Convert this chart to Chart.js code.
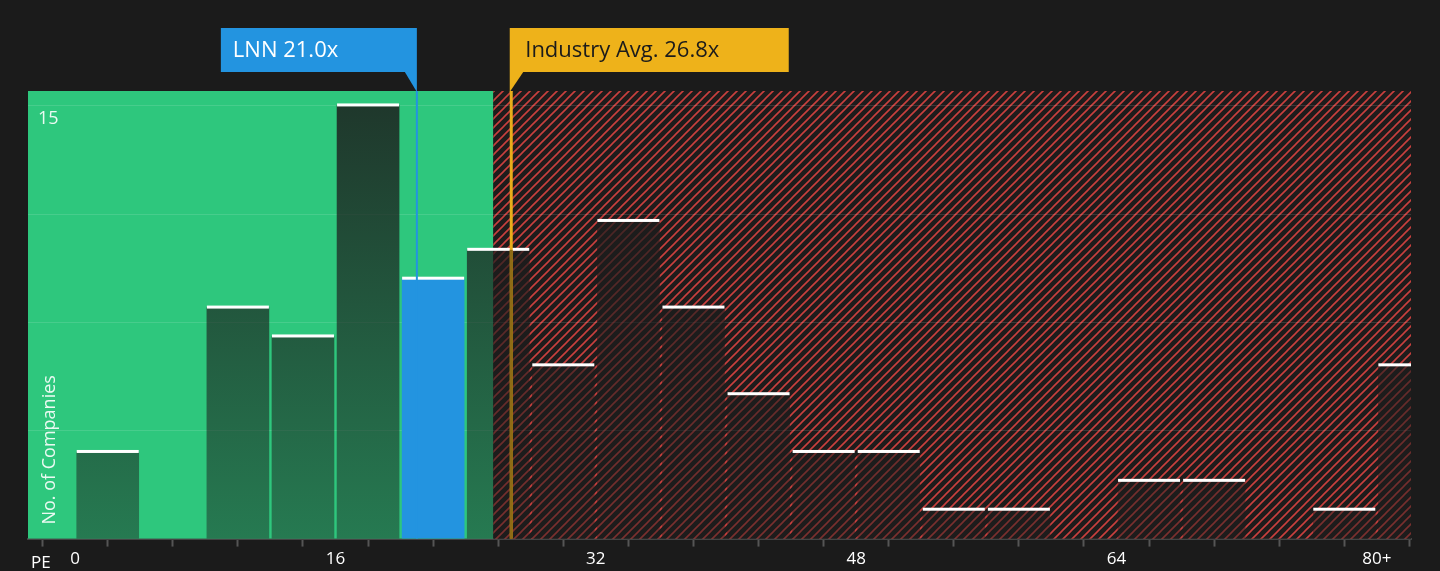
<!DOCTYPE html>
<html><head><meta charset="utf-8">
<script src="https://cdn.jsdelivr.net/npm/chart.js@4"></script>
<style>html,body{margin:0;background:#1b1b1b;}#w{width:1440px;height:571px;}</style>
</head><body><div id="w"><canvas id="c"></canvas></div>
<script>
const binCenters = [2,10,14,18,22,26,30,34,38,42,46,50,54,58,66,70,78,82];
const counts     = [3,8,7,15,9,10,6,11,8,5,3,3,1,1,2,2,1,6];
const xTickLabels = {0:'0',16:'16',32:'32',48:'48',64:'64',80:'80+'};
const companyPE = 21.0, industryPE = 26.8;
const companyLabel = 'LNN 21.0x', industryLabel = 'Industry Avg. 26.8x';
const font = '"Open Sans", "DejaVu Sans", sans-serif';

function hatch(){
  const p=document.createElement('canvas');p.width=9;p.height=9;const g=p.getContext('2d');
  g.fillStyle='#1e1c1c';g.fillRect(0,0,9,9);
  g.strokeStyle='#c9403e';g.lineWidth=1.6;
  g.beginPath();g.moveTo(0,9);g.lineTo(9,0);g.moveTo(-4.5,4.5);g.lineTo(4.5,-4.5);g.moveTo(4.5,13.5);g.lineTo(13.5,4.5);g.stroke();
  return p;
}
const bgPlugin={id:'bg',beforeDatasetsDraw(ch){
  const {ctx,chartArea:a,scales:{x,y}}=ch;const xs=x.getPixelForValue(25.7);
  ctx.save();
  ctx.fillStyle='#2ec77d';ctx.fillRect(a.left,a.top,xs-a.left,a.bottom-a.top);
  ctx.fillStyle=ctx.createPattern(hatch(),'repeat');ctx.fillRect(xs,a.top,a.right-xs,a.bottom-a.top);
  ctx.strokeStyle='rgba(255,255,255,0.12)';ctx.lineWidth=1;
  [3.75,7.5,11.25,15].forEach(v=>{const py=Math.round(y.getPixelForValue(v))+0.5;ctx.beginPath();ctx.moveTo(a.left,py);ctx.lineTo(a.right,py);ctx.stroke();});
  ctx.fillStyle='rgba(255,255,255,0.9)';ctx.font='18px '+font;ctx.textBaseline='middle';
  ctx.fillText('15',a.left+10,y.getPixelForValue(14.55));
  ctx.translate(55,a.bottom-14);ctx.rotate(-Math.PI/2);ctx.textBaseline='alphabetic';ctx.fillText('No. of Companies',0,0);
  ctx.restore();
},afterDatasetsDraw(ch){
  const {ctx,chartArea:a,scales:{x,y}}=ch;
  ctx.save();
  const meta=ch.getDatasetMeta(0);
  ctx.fillStyle='#ffffff';
  meta.data.forEach(b=>{const l=b.x-b.width/2;const r=Math.min(b.x+b.width/2,a.right);ctx.fillRect(l,b.y-2,r-l,3);});
  const cx=x.getPixelForValue(companyPE), ix=x.getPixelForValue(industryPE);
  ctx.fillStyle='#2394e0';ctx.fillRect(cx-1,a.top,2,a.bottom-a.top);
  ctx.fillStyle='#e9ad1a';ctx.fillRect(ix-1.5,a.top,3,a.bottom-a.top);
  ctx.fillStyle='rgba(120,90,20,0.8)';ctx.fillRect(ix-1.5,y.getPixelForValue(10),3,a.bottom-y.getPixelForValue(10));
  ctx.font='22px '+font;ctx.textBaseline='middle';
  // company callout
  ctx.fillStyle='#2394e0';ctx.fillRect(cx-196,28,196,44);
  ctx.beginPath();ctx.moveTo(cx-12,72);ctx.lineTo(cx,72);ctx.lineTo(cx,92);ctx.closePath();ctx.fill();
  ctx.fillStyle='#fff';ctx.fillText(companyLabel,cx-184,51);
  ctx.fillStyle='#eeb21a';ctx.fillRect(ix-1.5,28,279,44);
  ctx.beginPath();ctx.moveTo(ix-1.5,72);ctx.lineTo(ix+12,72);ctx.lineTo(ix-1.5,92);ctx.closePath();ctx.fill();
  ctx.fillStyle='#1b1b1b';ctx.fillText(industryLabel,ix+14,51);
  ctx.fillStyle='#fff';ctx.font='17px '+font;ctx.fillText('PE',31,563);
  ctx.restore();
}};
new Chart(document.getElementById('c'),{
  type:'bar',
  data:{datasets:[{data:binCenters.map((c,i)=>({x:c,y:counts[i]})),
    barThickness:62,borderWidth:0,
    backgroundColor(ctx){
      const ch=ctx.chart;const a=ch.chartArea;if(!a)return 'rgba(25,25,25,0.75)';
      if(ctx.raw&&ctx.raw.x===companyPE+1)return '#2394e0';
      const g=ch.ctx.createLinearGradient(0,a.top,0,a.bottom);
      g.addColorStop(0,'rgba(28,28,28,0.85)');g.addColorStop(1,'rgba(28,28,28,0.45)');return g;
    }}]},
  options:{responsive:true,maintainAspectRatio:false,animation:false,
    layout:{padding:{top:91,left:28,right:29,bottom:0}},
    plugins:{legend:{display:false},tooltip:{enabled:false}},
    scales:{
      x:{type:'linear',min:-2.9,max:82.1,offset:false,
        afterBuildTicks(ax){const t=[];for(let v=0;v<=80;v+=4)t.push({value:v});ax.ticks=t;},
        ticks:{color:'#fff',font:{size:17,family:font},maxRotation:0,autoSkip:false,padding:2,
          callback:v=>xTickLabels[v]!==undefined?xTickLabels[v]:''},
        grid:{drawOnChartArea:false,color:'#555',tickLength:8,tickWidth:2},
        border:{color:'#444',width:2}},
      y:{min:0,max:15.5,display:false}
    }},
  plugins:[bgPlugin]
});
</script></body></html>
